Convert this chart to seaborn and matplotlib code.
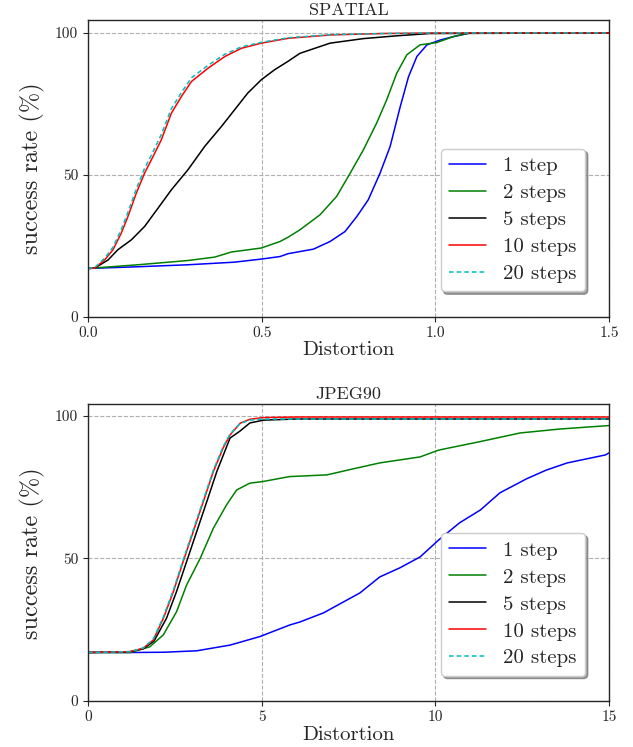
import matplotlib
matplotlib.use("Agg")
import matplotlib.pyplot as plt
import seaborn as sns
import pandas as pd

# ---- data ----
STEPS = ["1 step", "2 steps", "5 steps", "10 steps", "20 steps"]

spatial_1_x = [0, 0.144, 0.288, 0.42, 0.499, 0.553, 0.576, 0.649, 0.697, 0.74, 0.774, 0.807, 0.841, 0.87, 0.899, 0.923, 0.947, 0.976, 1.014, 1.052, 1.1, 1.5]
spatial_1_y = [17, 17.6, 18.3, 19.2, 20.3, 21.2, 22.2, 23.8, 26.5, 30, 35.3, 41.2, 50.6, 60, 74, 84.6, 91.7, 95.8, 97.5, 98.7, 100, 100]
spatial_2_x = [0, 0.144, 0.288, 0.365, 0.413, 0.499, 0.553, 0.576, 0.61, 0.668, 0.716, 0.755, 0.793, 0.831, 0.86, 0.889, 0.918, 0.956, 1.004, 1.052, 1.1, 1.5]
spatial_2_y = [17, 18.3, 19.8, 21, 22.8, 24.2, 26.5, 28, 30.6, 35.9, 42.4, 50.6, 58.8, 68.2, 76.4, 85.8, 92.3, 95.8, 96.6, 98.7, 100, 100]
spatial_5_x = [0, 0.019, 0.058, 0.086, 0.125, 0.163, 0.202, 0.24, 0.288, 0.336, 0.384, 0.422, 0.46, 0.499, 0.537, 0.576, 0.61, 0.697, 0.793, 0.89, 0.985, 1.5]
spatial_5_y = [17, 17.1, 20, 23.6, 27.1, 31.8, 38.3, 44.7, 51.8, 60, 67, 72.9, 78.8, 83.5, 87, 90, 92.8, 96.4, 98, 99, 99.8, 100]
spatial_10_x = [0, 0.019, 0.048, 0.072, 0.096, 0.115, 0.139, 0.163, 0.192, 0.211, 0.24, 0.269, 0.298, 0.346, 0.394, 0.442, 0.499, 0.576, 0.7, 0.85, 1.0, 1.5]
spatial_10_y = [17, 17.1, 20, 23.6, 29.5, 35.3, 43.5, 50.6, 57.6, 62.3, 71.7, 77.6, 82.9, 87.6, 91.7, 94.6, 96.4, 98.1, 99.3, 99.8, 100, 100]
spatial_20_x = spatial_10_x
spatial_20_y = [17, 17.3, 20.6, 24.5, 30.8, 36.8, 45, 52.3, 59.3, 64.2, 73.3, 79, 84.2, 88.6, 92.5, 95.1, 96.7, 98.3, 99.4, 99.8, 100, 100]

jpeg_1_x = [0, 1.21, 2.2, 3.13, 4.09, 4.95, 5.82, 6.1, 6.78, 7.83, 8.4, 8.98, 9.56, 10.1, 10.7, 11.3, 11.86, 12.64, 13.2, 13.8, 14.9, 15]
jpeg_1_y = [17, 17, 17.1, 17.6, 19.6, 22.6, 26.7, 27.7, 30.9, 37.9, 43.5, 46.7, 50.5, 56.5, 62.5, 67, 73, 78, 81, 83.5, 86.3, 87]
jpeg_2_x = [0, 1.21, 1.78, 2.17, 2.55, 2.84, 3.23, 3.61, 3.99, 4.28, 4.66, 5.05, 5.8, 6.88, 7.63, 8.4, 9.56, 10.1, 11.3, 12.44, 13.6, 15]
jpeg_2_y = [17, 17, 19, 23.2, 31.3, 40.7, 50, 60.6, 68.8, 74, 76.4, 77, 78.7, 79.3, 81.4, 83.5, 85.6, 88, 91, 94, 95.4, 96.6]
jpeg_5_x = [0, 1.21, 1.59, 1.9, 2.26, 2.55, 2.84, 3.13, 3.42, 3.71, 4.09, 4.38, 4.66, 5.05, 6, 15]
jpeg_5_y = [17, 17.3, 18.3, 21, 29, 38.4, 48.9, 59.4, 69.9, 80.5, 92.2, 94.7, 97.5, 98.5, 98.9, 98.9]
jpeg_10_x = [0, 1.21, 1.59, 1.88, 2.17, 2.46, 2.74, 3.03, 3.32, 3.61, 3.89, 4.09, 4.38, 4.66, 5.05, 6, 15]
jpeg_10_y = [17, 17.3, 18.5, 21.4, 29, 38.4, 48.9, 59.4, 69.9, 80.5, 88.7, 93.3, 97.4, 98.8, 99.4, 99.6, 99.6]
jpeg_20_x = jpeg_10_x
jpeg_20_y = [17, 17.3, 18.6, 21.7, 29.5, 39, 49.5, 60, 70.5, 81, 89.2, 93.6, 97.3, 98.5, 98.9, 98.9, 98.9]

spatial = [(spatial_1_x, spatial_1_y), (spatial_2_x, spatial_2_y), (spatial_5_x, spatial_5_y),
           (spatial_10_x, spatial_10_y), (spatial_20_x, spatial_20_y)]
jpeg = [(jpeg_1_x, jpeg_1_y), (jpeg_2_x, jpeg_2_y), (jpeg_5_x, jpeg_5_y),
        (jpeg_10_x, jpeg_10_y), (jpeg_20_x, jpeg_20_y)]


def to_frame(series):
    rows = []
    for label, (xs, ys) in zip(STEPS, series):
        for x, y in zip(xs, ys):
            rows.append({"distortion": x, "rate": y, "steps": label})
    return pd.DataFrame(rows)


sns.set_style("ticks")
plt.rcParams["font.family"] = ["cmr10", "DejaVu Serif"]
plt.rcParams["mathtext.fontset"] = "cm"
plt.rcParams["axes.formatter.use_mathtext"] = True

palette = {"1 step": "blue", "2 steps": "green", "5 steps": "black", "10 steps": "red", "20 steps": "c"}
dashes = {"1 step": "", "2 steps": "", "5 steps": "", "10 steps": "", "20 steps": (3, 2)}

fig, axes = plt.subplots(2, 1, figsize=(6.33, 7.47), dpi=100)
fig.subplots_adjust(left=0.139, right=0.962, top=0.973, bottom=0.0616, hspace=0.296)

panels = [
    ("SPATIAL", spatial, (0, 1.5), [0.0, 0.5, 1.0, 1.5], ["0.0", "0.5", "1.0", "1.5"], 104.5),
    ("JPEG90", jpeg, (0, 15), [0, 5, 10, 15], ["0", "5", "10", "15"], 104),
]

for ax, (title, series, xlim, xticks, xticklabels, ytop) in zip(axes, panels):
    df = to_frame(series)
    sns.lineplot(
        df,
        x="distortion",
        y="rate",
        hue="steps",
        style="steps",
        palette=palette,
        dashes=dashes,
        linewidth=1.1,
        ax=ax,
    )
    ax.set_xlim(*xlim)
    ax.set_ylim(0, ytop)
    ax.set_xticks(xticks)
    ax.set_xticklabels(xticklabels)
    ax.set_yticks([0, 50, 100])
    ax.set_yticklabels(["0", "50", "100"])
    ax.tick_params(labelsize=11, length=3.5, width=0.8)
    ax.grid(True, linestyle="--", color="#b0b0b0", linewidth=0.8)
    for sp in ax.spines.values():
        sp.set_linewidth(1.0)
    ax.set_title(title, fontsize=13, pad=4)
    ax.set_xlabel("Distortion", fontsize=15, labelpad=1)
    ax.set_ylabel("success rate (%)", fontsize=17.5, labelpad=7)
    ax.legend(
        loc="lower right",
        bbox_to_anchor=(0.954, 0.085),
        borderaxespad=0,
        fontsize=15,
        fancybox=True,
        shadow=True,
        framealpha=1,
        handlelength=1.8,
        labelspacing=0.4,
        title=None,
    )

fig.savefig("out.png", dpi=100)
